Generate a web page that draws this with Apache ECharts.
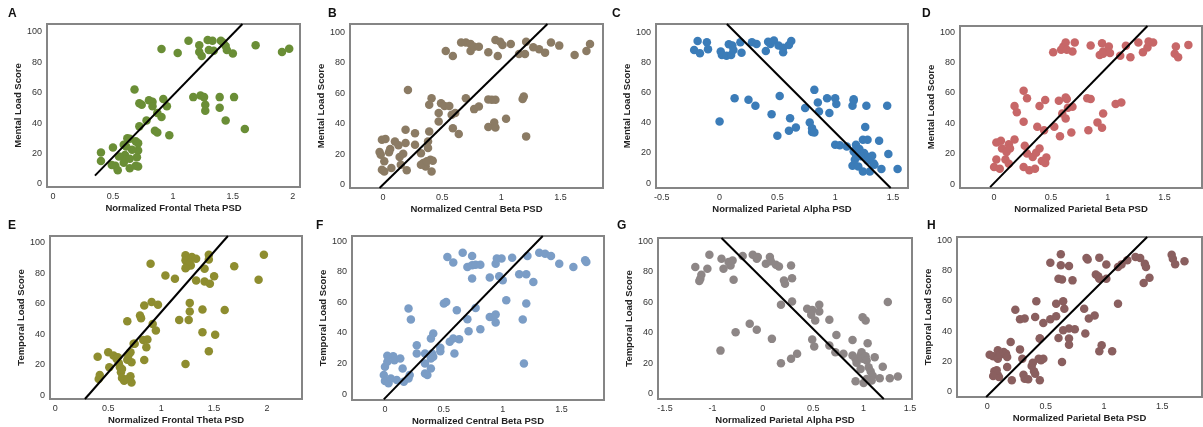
<!DOCTYPE html>
<html>
<head>
<meta charset="utf-8">
<script src="https://cdn.jsdelivr.net/npm/echarts@6/dist/echarts.min.js"></script>
<style>
html,body{margin:0;padding:0;background:#fff;}
#chart{width:1203px;height:427px;}
</style>
</head>
<body>
<div id="chart"></div>
<script>
// ---------- DATA ----------
const dataA = [[0.905,88.6],[1.04,86],[1.13,94],[1.22,91],[1.22,86.6],[1.24,84],[1.29,94.5],[1.30,88],[1.33,94],[1.34,87.5],[1.40,94],[1.44,90.5],[1.45,88],[1.50,85.7],[1.69,91],[1.91,86.6],[1.97,88.8],[1.42,92.7],
[1.17,57],[1.23,58],[1.26,57],[1.27,52],[1.27,48],[1.39,57],[1.39,50],[1.51,57],[1.44,41.7],[1.60,36],
[0.68,62],[0.72,53],[0.74,52],[0.80,55],[0.83,54],[0.83,51],[0.92,55.7],[0.95,51],[0.905,44],[0.87,46.5],[0.85,35],[0.87,33.8],[0.97,32],[0.72,37.8],[0.78,41.7],
[0.40,20.6],[0.40,15],[0.50,24],[0.52,12],[0.54,9],[0.59,25.7],[0.60,19],[0.60,16],[0.59,14],[0.62,30],[0.64,29.6],[0.69,28],[0.71,26.8],[0.71,22],[0.70,17.6],[0.64,10.3],[0.69,12],[0.71,11.4],[0.64,16.5],[0.66,22.4],[0.55,18],[0.49,12.5],[0.61,24.6]];
const dataB = [[0.53,87.8],[0.59,84.5],[0.66,93.4],[0.70,93.4],[0.74,92.4],[0.74,87.8],[0.77,90.6],[0.81,90.6],[0.89,86.9],[0.95,95],[0.97,84.5],[0.99,93.9],[1.01,91.7],[1.08,92.4],[1.15,85.8],[1.20,85.8],[1.21,93.9],[1.27,90.2],[1.32,88.9],[1.37,86.7],[1.42,93.4],[1.49,91.3],[1.62,85.2],[1.72,87.8],[1.75,92.4],
[0.21,62.2],[0.41,56.8],[0.39,52.4],[0.49,53.5],[0.52,51.7],[0.56,51.7],[0.47,47],[0.58,45.9],[0.61,47],[0.70,56.8],[0.77,49.6],[0.81,51.3],[0.47,41.5],[0.59,37.1],[0.64,33.2],[0.89,56],[0.92,55.7],[0.95,55.7],[0.89,37.8],[0.94,40.8],[0.95,37.6],[1.04,43.2],[1.18,56.3],[1.19,57.9],[1.21,31.7],
[-0.03,21.4],[-0.02,19.7],[-0.01,29.5],[0.02,30],[0.01,15.3],[-0.01,9.8],[0.01,8.7],[0.05,21.2],[0.06,23.4],[0.07,10.9],[0.10,28.4],[0.13,25.8],[0.14,18.1],[0.17,20.3],[0.15,13.1],[0.19,27.3],[0.19,36],[0.20,9.4],[0.27,33.8],[0.27,26.2],[0.32,20.7],[0.34,14.2],[0.36,12],[0.38,24],[0.39,34.9],[0.38,28.4],[0.40,16.4],[0.42,15.7],[0.41,8.7],[0.32,13.1],[0.37,15.3]];
const dataC = [[-0.22,88.3],[-0.19,94.3],[-0.17,86.1],[-0.11,93.4],[-0.10,88.7],[0.01,87.2],[0.02,85],[0.06,84.5],[0.08,92],[0.10,85],[0.11,91.2],[0.12,88.3],[0.18,93.4],[0.19,86.5],[0.28,93.4],[0.32,92.3],[0.40,87.6],[0.42,93.8],[0.44,92.3],[0.47,94.5],[0.51,91.2],[0.55,89.8],[0.55,86.8],[0.60,91.6],[0.62,94.3],
[0.00,40.8],[0.13,56.3],[0.25,55.2],[0.31,51.2],[0.45,45.7],[0.52,57.8],[0.50,31.3],[0.61,43],[0.60,34.7],[0.66,36.9],[0.74,49.7],[0.82,61.8],[0.78,40.2],[0.80,36.4],[0.80,33.8],[0.82,33.6],[0.85,53.4],[0.86,47.5],[0.93,56.3],[0.95,46.4],[1.00,56.3],[1.01,52.5],[1.15,51.2],[1.16,55.6],[1.16,54.7],[1.27,51.2],[1.45,51.2],[1.26,37.1],
[1.00,25.4],[1.04,25],[1.10,24.3],[1.18,25.4],[1.16,21],[1.18,18.8],[1.21,22.5],[1.24,28.7],[1.28,28.7],[1.25,19.9],[1.27,17.7],[1.28,15],[1.30,16.6],[1.33,13.2],[1.32,18.1],[1.38,28],[1.46,19.2],[1.40,9.3],[1.54,9.3],[1.15,11.5],[1.20,11],[1.24,7.7],[1.30,7.7],[1.34,12.1],[1.17,15.5],[1.22,17.7]];
const dataD = [[0.52,86.8],[0.59,88.4],[0.61,90.5],[0.63,93.2],[0.64,88.4],[0.69,87.3],[0.71,93.2],[0.85,91.2],[0.93,85],[0.95,92.7],[0.96,87.3],[0.96,85.7],[1.01,90.5],[1.02,86.2],[1.11,84.4],[1.16,91],[1.20,83.5],[1.27,93.2],[1.31,86.8],[1.35,89.9],[1.36,93.8],[1.40,93.2],[1.60,90.5],[1.59,85.7],[1.62,83.5],[1.71,91.6],
[0.26,61.5],[0.29,56.5],[0.18,51.4],[0.20,47.3],[0.26,41.1],[0.40,51.4],[0.45,55.4],[0.57,54.9],[0.63,57.1],[0.64,56],[0.65,50.3],[0.69,51],[0.63,43.3],[0.60,46.6],[0.82,56.5],[0.85,56],[0.96,46.6],[0.91,40.7],[0.95,37.1],[0.83,35.6],[0.68,34],[0.58,31.6],[0.53,37.8],[0.44,35.6],[0.38,37.8],[1.07,52.7],[1.12,53.8],
[0.02,27.5],[0.06,28.6],[0.07,23.5],[0.02,16.3],[0.00,11.4],[0.05,10.3],[0.10,16.3],[0.11,21.3],[0.13,26.4],[0.14,23.5],[0.18,29.5],[0.13,13.6],[0.27,25.3],[0.29,20.2],[0.26,11.4],[0.31,9.2],[0.36,10.3],[0.34,18],[0.37,20.7],[0.40,23.5],[0.42,15.4],[0.45,14],[0.46,17.6]];
const dataE = [[0.90,86.2],[1.04,78.5],[1.13,76.3],[1.23,91.7],[1.23,88.4],[1.24,84],[1.27,86.2],[1.29,90.6],[1.28,85.1],[1.33,89.5],[1.33,75.2],[1.41,82.9],[1.41,74.6],[1.45,92.1],[1.45,89],[1.46,73],[1.50,77.9],[1.69,84.6],[1.92,75.7],[1.97,92.1],[1.23,83.3],
[0.84,58.8],[0.91,61],[0.97,59.2],[0.80,52.2],[0.81,50.4],[0.68,48.5],[0.92,46.7],[0.95,42.3],[0.83,36.2],[0.87,36.4],[0.86,31.4],[0.75,33.6],[0.84,23],[1.17,49.3],[1.26,49.3],[1.27,54.8],[1.27,60.5],[1.39,56.1],[1.60,55.9],[1.39,41.2],[1.51,39.5],[1.45,28.7],[1.23,20.4],
[0.40,25.2],[0.41,10.5],[0.42,13.2],[0.50,28.1],[0.51,18.2],[0.55,25.9],[0.59,24.8],[0.60,20.8],[0.61,18.2],[0.62,14.9],[0.63,11.2],[0.65,9.4],[0.68,23.2],[0.69,25.9],[0.71,28.1],[0.72,21.5],[0.71,12.3],[0.72,8.3],[0.58,23.7],[0.63,17.1],[0.68,10.5],[0.74,33.6]];
const dataF = [[0.53,89.8],[0.58,86.1],[0.66,92.6],[0.70,83.2],[0.74,90.4],[0.74,84.3],[0.77,84.7],[0.81,84.7],[0.74,75.6],[0.89,76.3],[0.94,85.4],[0.95,88.7],[0.99,88.7],[0.97,77.1],[1.00,74.5],[1.08,89.3],[1.14,78.4],[1.20,78.4],[1.21,90.4],[1.26,73.4],[1.31,92.6],[1.36,91.9],[1.41,90.4],[1.48,85.4],[1.60,83.2],[1.70,87.6],[1.71,86.5],
[0.20,56],[0.22,48.8],[0.50,59.3],[0.52,60.3],[0.61,54.9],[0.70,49],[0.77,56.4],[0.71,41.2],[0.81,42.5],[0.58,36.4],[0.55,34.2],[0.63,35.9],[0.59,26.6],[0.47,30.3],[0.47,28.1],[0.41,39.7],[0.39,36.4],[0.89,50.5],[0.92,50.5],[0.94,52.1],[0.94,46.8],[1.03,61.4],[1.17,48.8],[1.20,59.3],[1.18,20],
[-0.01,12.4],[0.00,17.9],[0.00,8.5],[0.02,25.1],[0.02,21.1],[0.03,7],[0.05,10.2],[0.07,24.8],[0.08,22.2],[0.10,9.2],[0.13,23.3],[0.15,16.8],[0.16,8.1],[0.20,10.2],[0.21,12.4],[0.27,32],[0.27,26.6],[0.34,20],[0.34,13.5],[0.36,12.4],[0.39,16.8],[0.39,23.3],[0.40,26.6],[0.41,24.4],[0.34,26.6]];
const dataG = [[-0.67,83.2],[-0.63,74],[-0.62,75.5],[-0.61,78.1],[-0.55,82.1],[-0.53,91.2],[-0.41,88.6],[-0.39,82.1],[-0.34,86.4],[-0.32,84.2],[-0.30,87.5],[-0.29,74.8],[-0.20,90.4],[-0.10,91.2],[-0.06,88.6],[-0.05,89.7],[0.03,85.3],[0.07,89.7],[0.08,86.9],[0.13,84.7],[0.16,83.6],[0.21,74.4],[0.22,72.2],[0.28,84.2],[0.29,75.9],
[-0.42,28.4],[-0.27,40.5],[-0.13,46],[-0.06,42],[0.09,36.1],[0.18,58.4],[0.29,60.6],[0.18,20.1],[0.28,23],[0.34,26.3],[0.44,55.8],[0.49,55.1],[0.48,51.9],[0.52,48.1],[0.56,54],[0.56,58.4],[0.66,48.6],[0.49,35.7],[0.51,31.1],[0.73,38.7],[0.89,35.4],[0.99,50.3],[1.02,48.1],[1.04,33.3],[1.24,60.2],
[0.66,31.7],[0.72,27.4],[0.80,26.3],[0.89,25.2],[0.92,23],[0.93,20.4],[0.97,25.2],[0.98,27.4],[0.99,23],[1.02,24.7],[1.03,21.9],[0.97,16.4],[1.05,17.5],[1.07,14.7],[1.09,12],[1.11,24.1],[1.16,10.3],[1.19,17.9],[0.92,8.3],[1.00,7.2],[1.08,8.8],[1.26,10.3],[1.34,11.4],[1.03,9.8]];
const dataH = [[0.54,85.3],[0.63,90.8],[0.63,83.5],[0.70,83.1],[0.61,74.7],[0.64,74.1],[0.73,73.6],[0.85,88.4],[0.86,87.3],[0.96,88.6],[1.02,84],[0.93,77.4],[0.95,76.3],[0.96,74.7],[1.02,74.7],[1.12,82.4],[1.15,84],[1.20,86.8],[1.27,89],[1.31,88.4],[1.35,84.6],[1.36,82.4],[1.34,71.9],[1.39,75.4],[1.58,90.5],[1.59,87.9],[1.61,84.2],[1.69,86.2],
[0.24,54.3],[0.28,47.9],[0.32,48.4],[0.41,49.5],[0.42,59.8],[0.48,45.5],[0.54,47.9],[0.59,49.9],[0.59,58.2],[0.65,59.8],[0.66,54.9],[0.65,40.7],[0.70,41.8],[0.70,35.2],[0.70,31.2],[0.61,35.6],[0.45,35.2],[0.75,41.3],[0.83,54.9],[0.87,48.4],[0.92,50.5],[0.84,38.5],[0.98,30.8],[0.96,26.8],[1.07,26.8],[1.12,58.2],[0.64,19.8],
[0.02,24.6],[0.05,23.5],[0.09,27.5],[0.09,22],[0.11,24.6],[0.14,26.4],[0.16,25.3],[0.17,23.1],[0.20,33],[0.06,13.6],[0.09,11],[0.10,9.9],[0.08,14.3],[0.05,10.5],[0.17,16.5],[0.21,7.7],[0.28,28.1],[0.30,22],[0.31,11.4],[0.32,8.8],[0.35,8.4],[0.38,17.1],[0.40,13.6],[0.41,12.1],[0.44,22],[0.46,20.9],[0.48,22],[0.45,35.2],[0.45,7.7],[0.39,19.3]];

// regression lines (endpoints)
const lineA = [[0.35,5.5],[1.58,105]];
const lineB = [[-0.03,-2.2],[1.39,105.5]];
const lineC = [[0.063,105.5],[1.48,-3.3]];
const lineD = [[-0.035,-1.8],[1.35,104]];
const lineE = [[0.28,-2.6],[1.63,104.4]];
const lineF = [[-0.01,-3.5],[1.34,103.5]];
const lineG = [[-0.41,102.2],[1.20,-3.3]];
const lineH = [[-0.01,-3.3],[1.37,102.2]];

// tick values & labels
const yTicks = [0,20,40,60,80,100];
const xTicksA = [0,0.5,1,1.5,2];
const xTicksB = [0,0.5,1,1.5];
const xTicksC = [-0.5,0,0.5,1,1.5];
const xTicksD = [0,0.5,1,1.5];
const xTicksE = [0,0.5,1,1.5,2];
const xTicksF = [0,0.5,1,1.5];
const xTicksG = [-0.97,-0.5,0,0.5,1,1.46];
const xLabelsG = ['-1.5','-1','0','0.5','1','1.5'];
const xTicksH = [0,0.5,1,1.5];

const letters = ['A','B','C','D','E','F','G','H'];
const xNames = ['Normalized Frontal Theta PSD','Normalized Central Beta PSD','Normalized Parietal Alpha PSD','Normalized Parietal Beta PSD',
                'Normalized Frontal Theta PSD','Normalized Central Beta PSD','Normalized Parietal Alpha PSD','Normalized Parietal Beta PSD'];
const yNames = ['Mental Load Score','Mental Load Score','Mental Load Score','Mental Load Score',
                'Temporal Load Score','Temporal Load Score','Temporal Load Score','Temporal Load Score'];

// ---------- LAYOUT / STYLE ----------
const panels = [
  {data:dataA, line:lineA, ticks:xTicksA, color:'#6a8e36', box:[47,24,300,187], x:[-0.05,2.06], y:[-2,105], letter:[8,8]},
  {data:dataB, line:lineB, ticks:xTicksB, color:'#8b7b64', box:[350,24,603,188], x:[-0.28,1.86], y:[-2.2,105.5], letter:[328,8]},
  {data:dataC, line:lineC, ticks:xTicksC, color:'#3b7cb8', box:[656,24,908,188], x:[-0.55,1.63], y:[-3.3,105.5], letter:[612,8]},
  {data:dataD, line:lineD, ticks:xTicksD, color:'#c76768', box:[960,26,1202,188], x:[-0.30,1.83], y:[-2.4,104], letter:[922,8]},
  {data:dataE, line:lineE, ticks:xTicksE, color:'#8e8d2f', box:[50,236,302,399], x:[-0.05,2.33], y:[-2.6,104.4], letter:[8,220]},
  {data:dataF, line:lineF, ticks:xTicksF, color:'#7b9dc6', box:[352,236,604,400], x:[-0.28,1.86], y:[-3.9,103.5], letter:[316,220]},
  {data:dataG, line:lineG, ticks:xTicksG, labels:xLabelsG, color:'#8d8686', box:[658,238,912,399], x:[-1.04,1.48], y:[-3.3,102.2], letter:[617,220]},
  {data:dataH, line:lineH, ticks:xTicksH, color:'#8a5f5f', box:[957,237,1202,397], x:[-0.26,1.84], y:[-3.3,102.2], letter:[927,220]}
];

const FONT = '"Liberation Sans", Arial, sans-serif';
const grid=[], xAxis=[], yAxis=[], series=[], graphic=[];
panels.forEach((p,i)=>{
  const [l,t,r,b] = p.box;
  grid.push({left:l, top:t, width:r-l, height:b-t, show:true, borderColor:'#858585', borderWidth:2, backgroundColor:'transparent', containLabel:false});
  xAxis.push({
    type:'value', gridIndex:i, min:p.x[0], max:p.x[1],
    axisLine:{show:false}, axisTick:{show:false}, splitLine:{show:false},
    axisLabel:{customValues:p.ticks, fontSize:9, color:'#333', fontFamily:FONT, margin:5, showMaxLabel:true,
      formatter:(v)=>{ if(p.labels){ const k=p.ticks.indexOf(v); return k>=0?p.labels[k]:String(v);} return String(v);} },
    name:xNames[i], nameLocation:'middle', nameGap:16,
    nameTextStyle:{fontSize:9.5, fontWeight:'bold', color:'#222', fontFamily:FONT}
  });
  yAxis.push({
    type:'value', gridIndex:i, min:p.y[0], max:p.y[1],
    axisLine:{show:false}, axisTick:{show:false}, splitLine:{show:false},
    axisLabel:{customValues:yTicks, fontSize:9, color:'#333', fontFamily:FONT, margin:5},
    name:yNames[i], nameLocation:'middle', nameGap:19,
    nameTextStyle:{fontSize:9.5, fontWeight:'bold', color:'#222', fontFamily:FONT}
  });
  series.push({type:'scatter', xAxisIndex:i, yAxisIndex:i, data:p.data, symbolSize:8.5,
    itemStyle:{color:p.color, opacity:1}, silent:true, z:2});
  series.push({type:'line', xAxisIndex:i, yAxisIndex:i, data:p.line, symbol:'none', clip:true,
    lineStyle:{color:'#000', width:2}, silent:true, z:3});
  graphic.push({type:'text', left:p.letter[0], top:p.letter[1],
    style:{text:letters[i], font:'bold 12px '+FONT, fill:'#111'}});
});

const chart = echarts.init(document.getElementById('chart'), null, {renderer:'canvas'});
chart.setOption({animation:false, backgroundColor:'#fff', grid, xAxis, yAxis, series, graphic});
</script>
</body>
</html>
